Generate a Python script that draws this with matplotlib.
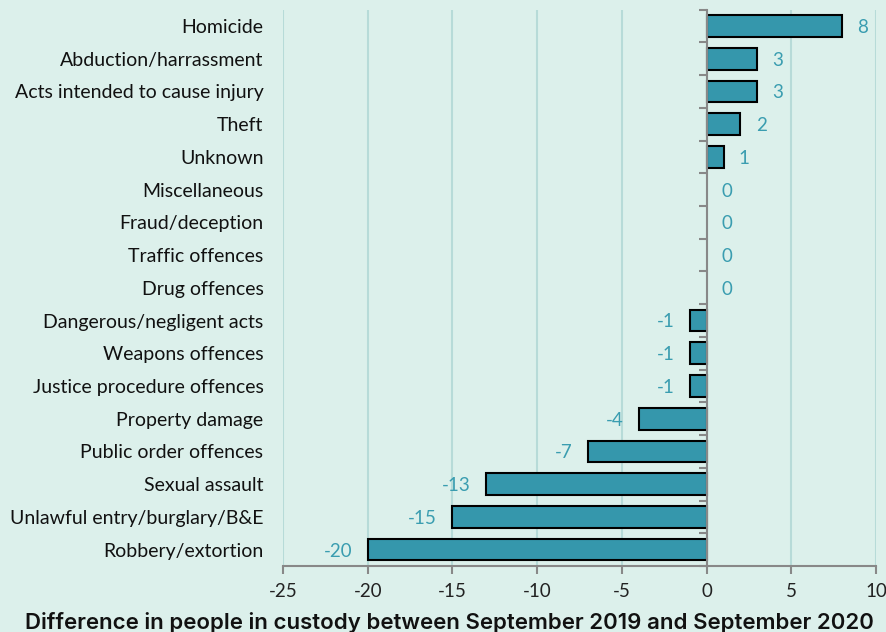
import matplotlib.pyplot as plt
import numpy as np

categories = ['Homicide', 'Abduction/harrassment', 'Acts intended to cause injury', 'Theft',
              'Unknown', 'Miscellaneous', 'Fraud/deception', 'Traffic offences', 'Drug offences',
              'Dangerous/negligent acts', 'Weapons offences', 'Justice procedure offences',
              'Property damage', 'Public order offences', 'Sexual assault',
              'Unlawful entry/burglary/B&E', 'Robbery/extortion']
values = [8, 3, 3, 2, 1, 0, 0, 0, 0, -1, -1, -1, -4, -7, -13, -15, -20]
xticks = [-25, -20, -15, -10, -5, 0, 5, 10]

bg = '#dcf0eb'
bar_col = '#3597ac'
lab_col = '#3a9db0'
plt.rcParams['font.family'] = ['Lato', 'DejaVu Sans']

fig = plt.figure(figsize=(8.86, 6.32), dpi=100, facecolor=bg)
ax = fig.add_axes([0.3194, 0.1044, 0.6693, 0.8804], facecolor=bg)

y = np.arange(len(categories))
lws = [1.5 if v != 0 else 0 for v in values]
ax.barh(y, values, height=0.66, color=bar_col, edgecolor='black', linewidth=lws, zorder=3)

for yi, v in zip(y, values):
    if v >= 0:
        ax.annotate(str(v), (v, yi), xytext=(11, -1), textcoords='offset points',
                    ha='left', va='center', color=lab_col, fontsize=13.5)
    else:
        ax.annotate(str(v), (v, yi), xytext=(-11, -1), textcoords='offset points',
                    ha='right', va='center', color=lab_col, fontsize=13.5)

ax.set_xlim(-25, 10)
ax.set_ylim(len(categories) - 0.5, -0.5)
ax.set_xticks(xticks)
ax.set_xticklabels([str(t) for t in xticks], fontsize=13.5, color='#222222')
ax.tick_params(axis='x', length=6, width=1.5, color='#888888', pad=6)
ax.grid(axis='x', color='#b7dbd8', linewidth=1.5, zorder=0)

# vertical axis at zero, ticks at category boundaries pointing left
ax.spines['left'].set_position(('data', 0))
ax.spines['left'].set_color('#888888')
ax.spines['left'].set_linewidth(1.5)
ax.spines['left'].set_zorder(4)
ax.set_yticks(np.arange(len(categories) + 1) - 0.5)
ax.set_yticklabels([])
ax.tick_params(axis='y', length=6, width=1.5, color='#888888', direction='out')

# category labels at the left of the plot
for yi, cat in zip(y, categories):
    ax.text(-0.033, yi, cat, transform=ax.get_yaxis_transform(), ha='right',
            va='center_baseline', fontsize=14, color='#111111')

for s in ['top', 'right']:
    ax.spines[s].set_visible(False)
ax.spines['bottom'].set_color('#888888')
ax.spines['bottom'].set_linewidth(1.5)

fig.text(0.507, 0.004, 'Difference in people in custody between September 2019 and September 2020',
         ha='center', va='baseline', fontsize=16, fontweight='semibold', color='#111111',
         family=['Inter', 'DejaVu Sans'])

fig.savefig('out.png', dpi=100, facecolor=bg)
